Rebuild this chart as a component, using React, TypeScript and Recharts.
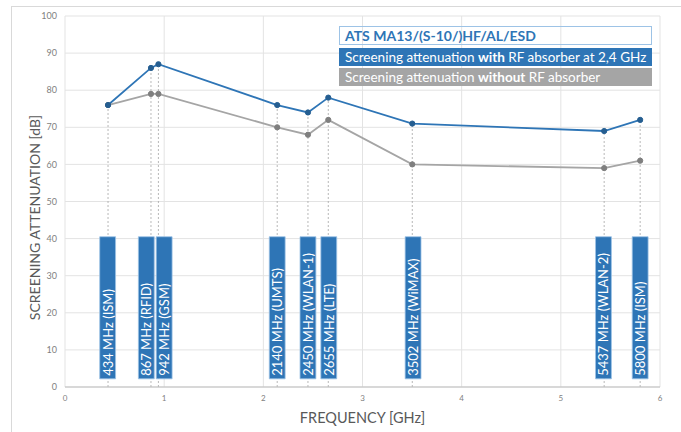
import {
  ComposedChart, Line, XAxis, YAxis, CartesianGrid,
  ReferenceArea, ReferenceLine, Label,
} from 'recharts';

// measured frequencies and screening attenuation (dB)
const freqGHz = [0.434, 0.867, 0.942, 2.14, 2.45, 2.655, 3.502, 5.437, 5.8];
const withAbsorber = [76, 86, 87, 76, 74, 78, 71, 69, 72];
const withoutAbsorber = [76, 79, 79, 70, 68, 72, 60, 59, 61];

// band markers (blue boxes) – centre in GHz, label text
const bandCenters = [0.43, 0.82, 1.0, 2.14, 2.45, 2.66, 3.51, 5.43, 5.8];
const bandLabels = [
  '434 MHz (ISM)', '867 MHz (RFID)', '942 MHz (GSM)', '2140 MHz (UMTS)',
  '2450 MHz (WLAN-1)', '2655 MHz (LTE)', '3502 MHz (WiMAX)', '5437 MHz (WLAN-2)',
  '5800 MHz (ISM)',
];
const bandTop = 40.5;
const bandBottom = 2.2;
const bandHalfWidth = 0.08;

const xTicks = [0, 1, 2, 3, 4, 5, 6];
const yTicks = [0, 10, 20, 30, 40, 50, 60, 70, 80, 90, 100];

const BLUE = '#2E75B6';
const BLUE_DOT = '#255E91';
const GREY = '#A5A5A5';
const GREY_DOT = '#7F7F7F';
const FONT = 'Lato, "Open Sans", sans-serif';

const data = freqGHz.map((f, i) => ({
  f,
  withAbs: withAbsorber[i],
  withoutAbs: withoutAbsorber[i],
}));

const BandText = ({ viewBox, text }: { viewBox?: any; text: string }) => {
  if (!viewBox) return null;
  const cx = viewBox.x + viewBox.width / 2;
  const y = viewBox.y + viewBox.height - 3;
  return (
    <text
      x={cx} y={y}
      transform={`rotate(-90 ${cx} ${y})`}
      fill="#fff" fontSize={13} fontFamily={FONT}
      dominantBaseline="central" textAnchor="start"
    >
      {text}
    </text>
  );
};

// y axis title sits a bit below the plot centre in the original
const YTitle = ({ viewBox }: { viewBox?: any }) => {
  if (!viewBox) return null;
  const x = 34;
  const y = viewBox.y + viewBox.height / 2 + 16;
  return (
    <text
      x={x} y={y} transform={`rotate(-90 ${x} ${y})`}
      fill="#595959" fontSize={14} fontFamily={FONT}
      textAnchor="middle" dominantBaseline="central"
    >
      SCREENING ATTENUATION [dB]
    </text>
  );
};

// legend drawn as three stacked boxes like the original
const LegendBox = () => (
  <div style={{
    position: 'absolute', left: 339, top: 26, width: 313,
    fontFamily: FONT, fontSize: 13.5, lineHeight: '18px', whiteSpace: 'nowrap',
  }}>
    <div style={{ border: '1px solid #9DC3E6', color: BLUE, fontWeight: 700, fontSize: 14, padding: '0 5px', height: 17, lineHeight: '17px', marginBottom: 3 }}>
      ATS MA13/(S-10/)HF/AL/ESD
    </div>
    <div style={{ background: BLUE, color: '#fff', padding: '0 6px', height: 18, marginBottom: 2 }}>
      Screening attenuation <b>with</b> RF absorber at 2,4 GHz
    </div>
    <div style={{ background: GREY, color: '#fff', padding: '0 6px', height: 18 }}>
      Screening attenuation <b>without</b> RF absorber
    </div>
  </div>
);

export default function App() {
  return (
    <div style={{ position: 'relative', width: 681, height: 432, background: '#fff' }}>
      <style>{'body{margin:0}'}</style>
      <div style={{ position: 'absolute', left: 11, top: 6, right: 0, bottom: 0, borderTop: '1px solid #D9D9D9', borderLeft: '1px solid #D9D9D9' }} />
      <ComposedChart
        width={681} height={432} data={data}
        margin={{ top: 16, right: 21, left: 0, bottom: 15 }}
        style={{ position: 'absolute', left: 0, top: 0 }}
      >
        <CartesianGrid stroke="#E3E3E3" strokeWidth={1} />
        <XAxis
          type="number" dataKey="f" domain={[0, 6]} ticks={xTicks}
          tick={{ fontSize: 8, fill: '#7F7F7F', fontFamily: FONT }}
          tickLine={false} axisLine={{ stroke: '#BFBFBF' }} height={30}
        >
          <Label value="FREQUENCY [GHz]" position="insideBottom" offset={-6}
            style={{ fontSize: 14.5, fill: '#595959', fontFamily: FONT }} />
        </XAxis>
        <YAxis
          type="number" domain={[0, 100]} ticks={yTicks} width={65}
          tick={{ fontSize: 9, fill: '#7F7F7F', fontFamily: FONT }}
          tickLine={false} axisLine={false}
        >
          <Label content={<YTitle />} />
        </YAxis>

        {/* drop lines from each measurement down to 0, kept behind the band boxes */}
        {freqGHz.map((f, i) => (
          <ReferenceLine
            key={`d${i}`}
            segment={[{ x: f, y: 0 }, { x: f, y: withAbsorber[i] }]}
            stroke="#A6A6A6" strokeDasharray="2 2" strokeWidth={0.8}
            zIndex={-10}
          />
        ))}

        {/* band marker boxes */}
        {bandCenters.map((c, i) => (
          <ReferenceArea
            key={`b${i}`}
            x1={c - bandHalfWidth} x2={c + bandHalfWidth}
            y1={bandBottom} y2={bandTop}
            fill={BLUE} fillOpacity={1} stroke="#9DC3E6" strokeWidth={0.8}
            zIndex={450}
            label={<BandText text={bandLabels[i]} />}
          />
        ))}

        <Line
          dataKey="withoutAbs" stroke={GREY} strokeWidth={1.8}
          dot={{ r: 2.6, fill: GREY_DOT, stroke: GREY_DOT, strokeWidth: 1 }}
          isAnimationActive={false}
        />
        <Line
          dataKey="withAbs" stroke={BLUE} strokeWidth={1.8}
          dot={{ r: 2.6, fill: BLUE_DOT, stroke: BLUE_DOT, strokeWidth: 1 }}
          isAnimationActive={false}
        />
      </ComposedChart>
      <LegendBox />
    </div>
  );
}
